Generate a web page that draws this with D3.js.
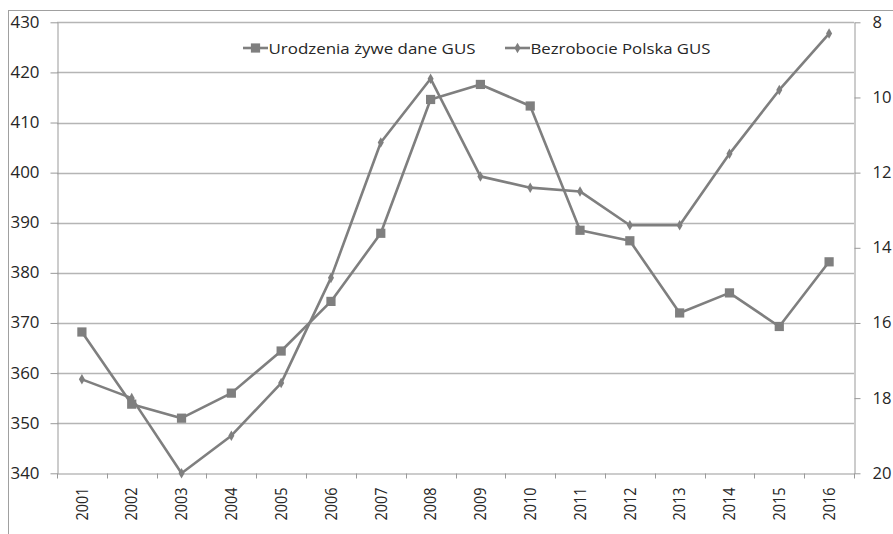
<!DOCTYPE html>
<html>
<head>
<meta charset="utf-8">
<script src="https://cdn.jsdelivr.net/npm/d3@7"></script>
<style>
  body { margin: 0; background: #fff; }
  svg text { font-family: "Open Sans", "Liberation Sans", sans-serif; fill: #262626; }
</style>
</head>
<body>
<svg width="893" height="534"></svg>
<script>
// data
var years = ['2001','2002','2003','2004','2005','2006','2007','2008',
             '2009','2010','2011','2012','2013','2014','2015','2016'];
var births = [368.2, 353.8, 351.0, 356.0, 364.4, 374.3, 387.9, 414.6,
              417.6, 413.3, 388.5, 386.4, 372.0, 376.0, 369.3, 382.2];
var unemployment = [17.5, 18.0, 20.0, 19.0, 17.6, 14.8, 11.2, 9.5,
                    12.1, 12.4, 12.5, 13.4, 13.4, 11.5, 9.8, 8.3];
var leftTicks = [340, 350, 360, 370, 380, 390, 400, 410, 420, 430];
var rightTicks = [8, 10, 12, 14, 16, 18, 20];
var seriesNames = ['Urodzenia żywe dane GUS', 'Bezrobocie Polska GUS'];

var lineColor = '#7f7f7f';
var svg = d3.select('svg');

var x = d3.scaleBand().domain(years).range([57, 854]);
var yLeft = d3.scaleLinear().domain([340, 430]).range([473.3, 22.3]);
var yRight = d3.scaleLinear().domain([8, 20]).range([22.3, 473.3]);

// outer frame (top + left only visible)
svg.append('line').attr('x1', 8).attr('x2', 893).attr('y1', 10.5).attr('y2', 10.5)
    .attr('stroke', '#a0a0a0');
svg.append('line').attr('x1', 8.5).attr('x2', 8.5).attr('y1', 10).attr('y2', 534)
    .attr('stroke', '#a0a0a0');

// gridlines
svg.append('g').selectAll('line')
    .data(leftTicks.slice(1))
    .enter().append('line')
    .attr('x1', 57).attr('x2', 854)
    .attr('y1', d => Math.round(yLeft(d)) + 0.5)
    .attr('y2', d => Math.round(yLeft(d)) + 0.5)
    .attr('stroke', '#b5b5b5')
    .attr('stroke-width', 1.3);

// left axis
var leftAxis = svg.append('g')
    .attr('transform', 'translate(57.5,0)')
    .call(d3.axisLeft(yLeft).tickValues(leftTicks).tickSize(7).tickSizeOuter(0).tickPadding(11));
leftAxis.select('.domain').attr('stroke', '#999');
leftAxis.selectAll('.tick line').attr('stroke', '#999');
leftAxis.selectAll('text').attr('font-size', 15.5).attr('fill', '#262626')
    .attr('textLength', 29).attr('lengthAdjust', 'spacingAndGlyphs');

// right axis
var rightAxis = svg.append('g')
    .attr('transform', 'translate(854.5,0)')
    .call(d3.axisRight(yRight).tickValues(rightTicks).tickSize(6).tickSizeOuter(0).tickPadding(12));
rightAxis.select('.domain').attr('stroke', '#999');
rightAxis.selectAll('.tick line').attr('stroke', '#999');
rightAxis.selectAll('text').attr('font-size', 15.5).attr('fill', '#262626')
    .attr('textLength', d => d < 10 ? 9.5 : 19).attr('lengthAdjust', 'spacingAndGlyphs');

// bottom axis: labels at category centres, ticks at boundaries
var bottomAxis = svg.append('g')
    .attr('transform', 'translate(0,473.5)')
    .call(d3.axisBottom(x).tickSize(0).tickSizeOuter(0));
bottomAxis.select('.domain').attr('stroke', '#999');
bottomAxis.selectAll('text')
    .attr('font-size', 16)
    .attr('fill', '#262626')
    .attr('text-anchor', 'end')
    .attr('transform', 'rotate(-90)')
    .attr('x', -14)
    .attr('y', 0)
    .attr('dy', '0.36em')
    .attr('textLength', 33)
    .attr('lengthAdjust', 'spacingAndGlyphs');
bottomAxis.selectAll('.tick-mark')
    .data(years.concat(['end']))
    .enter().append('line')
    .attr('class', 'tick-mark')
    .attr('x1', d => Math.round(d === 'end' ? x.range()[1] : x(d)) + 0.5)
    .attr('x2', d => Math.round(d === 'end' ? x.range()[1] : x(d)) + 0.5)
    .attr('y1', 0).attr('y2', 5)
    .attr('stroke', '#999');

var cx = d => x(d) + x.bandwidth() / 2;

// births line (left axis, squares)
var birthLine = d3.line().x((d, i) => cx(years[i])).y(d => yLeft(d));
svg.append('path').datum(births)
    .attr('d', birthLine)
    .attr('fill', 'none').attr('stroke', lineColor).attr('stroke-width', 2.6)
    .attr('stroke-linejoin', 'round');

// unemployment line (right axis, diamonds)
var unempLine = d3.line().x((d, i) => cx(years[i])).y(d => yRight(d));
svg.append('path').datum(unemployment)
    .attr('d', unempLine)
    .attr('fill', 'none').attr('stroke', lineColor).attr('stroke-width', 2.6)
    .attr('stroke-linejoin', 'round');

var squareSym = d3.symbol().type(d3.symbolSquare).size(85);
var diamondSym = d3.symbol().type(d3.symbolDiamond).size(32);

svg.append('g').selectAll('path')
    .data(births).enter().append('path')
    .attr('d', squareSym)
    .attr('transform', (d, i) => 'translate(' + cx(years[i]) + ',' + yLeft(d) + ')')
    .attr('fill', lineColor);

svg.append('g').selectAll('path')
    .data(unemployment).enter().append('path')
    .attr('d', diamondSym)
    .attr('transform', (d, i) => 'translate(' + cx(years[i]) + ',' + yRight(d) + ')')
    .attr('fill', lineColor);

// legend
var legend = svg.append('g');
var legendItems = [
  { x: 243, sym: squareSym, w: 207, name: seriesNames[0] },
  { x: 505, sym: diamondSym, w: 180, name: seriesNames[1] }
];
legendItems.forEach(function(item) {
  legend.append('line')
      .attr('x1', item.x).attr('x2', item.x + 25)
      .attr('y1', 48).attr('y2', 48)
      .attr('stroke', lineColor).attr('stroke-width', 2.6);
  legend.append('path')
      .attr('d', item.sym)
      .attr('transform', 'translate(' + (item.x + 12.5) + ',48)')
      .attr('fill', lineColor);
  legend.append('text')
      .attr('x', item.x + 25.5)
      .attr('y', 53.5)
      .attr('font-size', 15)
      .attr('textLength', item.w)
      .attr('lengthAdjust', 'spacingAndGlyphs')
      .text(item.name);
});
</script>
</body>
</html>
